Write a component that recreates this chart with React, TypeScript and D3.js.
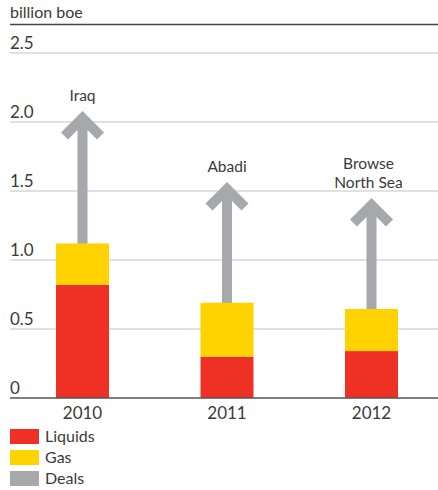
import React from "react";
import * as d3 from "d3";

const years = ["2010", "2011", "2012"];
const liquids = [0.82, 0.3, 0.34];
const gas = [0.3, 0.39, 0.305];
const dealTops = [2.08, 1.565, 1.45];
const dealLabels = [["Iraq"], ["Abadi"], ["Browse", "North Sea"]];
const yTicks = [0, 0.5, 1.0, 1.5, 2.0, 2.5];
const legendItems = ["Liquids", "Gas", "Deals"];

const W = 438;
const H = 490;
const RED = "#EE3124";
const YELLOW = "#FFD200";
const GREY = "#A7A8AB";
const FONT = "Lato, 'Open Sans', sans-serif";

export default function App() {
  const x = d3.scalePoint<string>().domain(years).range([82.5, 371.5]);
  const y = d3.scaleLinear().domain([0, 2.5]).range([398, 53]);
  const barW = 53;
  const legendColors = [RED, YELLOW, GREY];

  const arrowPath = (cx: number, tipY: number, baseY: number) => {
    const p = d3.path();
    p.moveTo(cx, tipY);
    p.lineTo(cx + 21.5, tipY + 21.5);
    p.lineTo(cx + 14.5, tipY + 28.5);
    p.lineTo(cx + 5, tipY + 19);
    p.lineTo(cx + 5, baseY);
    p.lineTo(cx - 5, baseY);
    p.lineTo(cx - 5, tipY + 19);
    p.lineTo(cx - 14.5, tipY + 28.5);
    p.lineTo(cx - 21.5, tipY + 21.5);
    p.closePath();
    return p.toString();
  };

  return (
    <svg
      width={W}
      height={H}
      style={{ position: "absolute", left: 0, top: 0, display: "block" }}
      fontFamily={FONT}
    >
      <rect width={W} height={H} fill="#fff" />
      <text x={10} y={18} fontSize={16} fill="#3a3a3a">billion boe</text>
      <line x1={10} x2={W} y1={24.5} y2={24.5} stroke="#444" strokeWidth={1.3} />
      {yTicks.map((t) => (
        <g key={t}>
          {t > 0 && (
            <line x1={10} x2={W} y1={y(t)} y2={y(t)} stroke="#C4C4C4" strokeWidth={1.2} />
          )}
          <text x={10} y={y(t) - 4} fontSize={17} fill="#3a3a3a">
            {t === 0 ? "0" : t.toFixed(1)}
          </text>
        </g>
      ))}
      {years.map((yr, i) => {
        const cx = x(yr)!;
        const top = liquids[i] + gas[i];
        const lines = dealLabels[i];
        const tipY = y(dealTops[i]);
        return (
          <g key={yr}>
            <path d={arrowPath(cx, tipY, y(top) + 1)} fill={GREY} />
            <rect x={cx - barW / 2} y={y(liquids[i])} width={barW} height={y(0) - y(liquids[i])} fill={RED} />
            <rect x={cx - barW / 2} y={y(top)} width={barW} height={y(liquids[i]) - y(top)} fill={YELLOW} />
            {lines.map((l, j) => (
              <text
                key={l}
                x={cx - (lines.length > 1 ? 3 : 0)}
                y={tipY - 10 - (lines.length - 1 - j) * 19}
                textAnchor="middle"
                fontSize={15.5}
                fill="#3a3a3a"
              >
                {l}
              </text>
            ))}
            <text x={cx} y={419} textAnchor="middle" fontSize={17} fill="#3a3a3a">
              {yr}
            </text>
          </g>
        );
      })}
      <line x1={10} x2={W} y1={y(0)} y2={y(0)} stroke="#555" strokeWidth={1.5} />
      {legendItems.map((name, i) => (
        <g key={name} transform={`translate(10, ${429 + i * 21})`}>
          <rect width={29} height={15} fill={legendColors[i]} />
          <text x={35} y={13} fontSize={16} fill="#3a3a3a">{name}</text>
        </g>
      ))}
    </svg>
  );
}
